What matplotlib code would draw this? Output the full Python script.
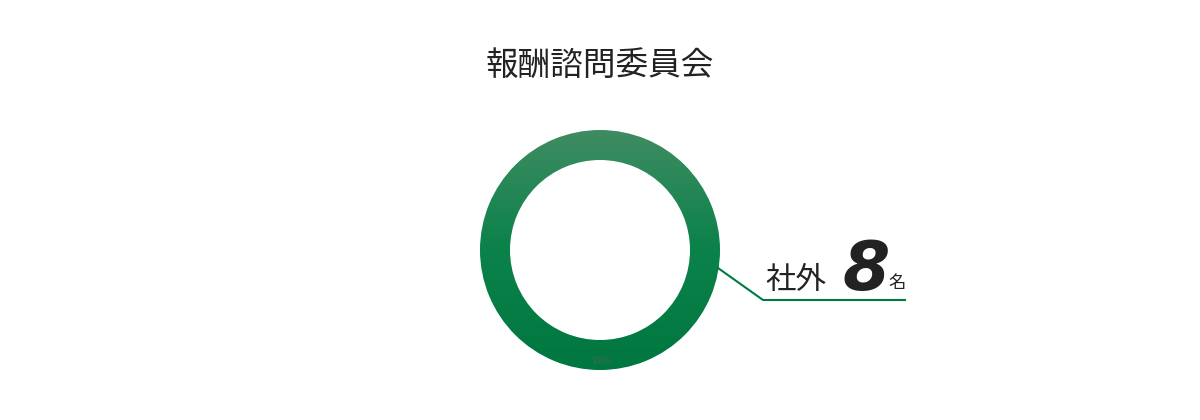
import numpy as np
import matplotlib
matplotlib.use("Agg")
import matplotlib.pyplot as plt
from matplotlib.colors import LinearSegmentedColormap

title = "報酬諮問委員会"
categories = ["社外"]
counts = [8]
unit = "名"
pct_labels = ["100%"]

plt.rcParams['font.family'] = ['Noto Sans CJK JP', 'DejaVu Sans']

fig = plt.figure(figsize=(12, 4.2), dpi=100)
ax = fig.add_axes([0, 0, 1, 1])

cx, cy, R, w = 600, 250, 120, 30
wedges, _ = ax.pie(counts, center=(cx, cy), radius=R, startangle=90,
                   counterclock=False, wedgeprops=dict(width=w, edgecolor='none'))
ax.set_xlim(0, 1200)
ax.set_ylim(420, 0)
ax.set_aspect('auto')
ax.axis('off')

cmap = LinearSegmentedColormap.from_list('g', ['#3f8c62', '#0a8249', '#00773e'])
grad = np.linspace(0, 1, 256).reshape(-1, 1)
for wdg in wedges:
    wdg.set_facecolor('none')
    im = ax.imshow(grad, cmap=cmap, extent=(cx - R, cx + R, cy + R, cy - R),
                   aspect='auto', zorder=1, interpolation='bilinear')
    im.set_clip_path(wdg)

ax.text(cx + 2, cy + 112, pct_labels[0], ha='center', va='center', fontsize=6,
        color='#3a6b55', zorder=3)

ax.text(600, 66, title, ha='center', va='center', fontsize=23.5, color='#222222')

ax.plot([718, 763, 905], [268, 300, 300], color='#007a40', lw=1.5, zorder=2)
ax.text(765, 289, categories[0], ha='left', va='baseline', fontsize=22, color='#222222')
ax.text(842, 290, str(counts[0]), ha='left', va='baseline', fontsize=49,
        fontweight='heavy', fontstyle='italic', family='DejaVu Sans', color='#222222')
ax.text(888, 288, unit, ha='left', va='baseline', fontsize=12.5, color='#222222')

fig.savefig('out.png', dpi=100)
